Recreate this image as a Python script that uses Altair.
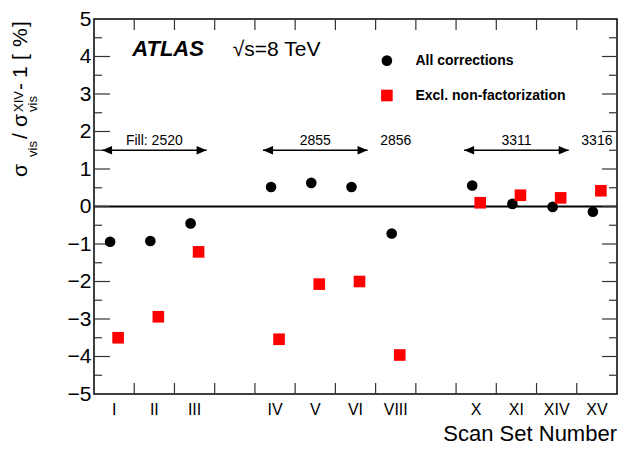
import altair as alt
import pandas as pd

# ---------------- data ----------------
scan_sets = ["I", "II", "III", "IV", "V", "VI", "VIII", "X", "XI", "XIV", "XV"]
slot = [0, 1, 2, 4, 5, 6, 7, 9, 10, 11, 12]          # bin index on the x axis (gaps at 3 and 8)
all_corr = [-0.94, -0.92, -0.45, 0.52, 0.63, 0.52, -0.72, 0.56, 0.07, -0.01, -0.14]
excl_nf = [-3.50, -2.94, -1.21, -3.54, -2.07, -2.00, -3.96, 0.10, 0.30, 0.23, 0.42]

fill_labels = ["Fill: 2520", "2855", "2856", "3311", "3316"]
fill_center = [1.5, 5.5, 7.5, 10.5, 12.5]
arrow_from = [0.2, 4.2, 9.2]
arrow_to = [2.8, 6.8, 11.8]

y_ticks = [-5, -4, -3, -2, -1, 0, 1, 2, 3, 4, 5]
y_minor = [-4.5, -3.5, -2.5, -1.5, -0.5, 0.5, 1.5, 2.5, 3.5, 4.5]
x_edges = list(range(1, 13))

# ---------------- layout ----------------
W, H = 523, 375
PT, PB = 11, 52
FONT = "Liberation Sans"
xs = alt.Scale(domain=[0, 13], nice=False, zero=False)
ys = alt.Scale(domain=[-5, 5], nice=False, zero=False)
yaxis = alt.Axis(values=y_ticks, format="d", tickSize=0, domain=False, grid=False,
                 labelFont=FONT, labelFontSize=21, labelColor="black", labelPadding=3, title=None)

pts = pd.DataFrame({
    "set": scan_sets,
    "pos": [s + 0.5 for s in slot],
    "all": all_corr,
    "excl": excl_nf,
})

X = lambda f: alt.X(f, type="quantitative", scale=xs, axis=None)
Y = lambda f: alt.Y(f, type="quantitative", scale=ys, axis=yaxis)

# zero line
base = alt.Chart(pd.DataFrame({"v": [0]})).mark_rule(strokeWidth=2, color="black").encode(
    y=Y("v"), x=alt.value(0), x2=alt.value(W))

# inner ticks
ymaj = pd.DataFrame({"v": y_ticks[1:-1]})
ymin = pd.DataFrame({"v": y_minor})
xed = pd.DataFrame({"u": x_edges})
tick_col = "#333333"
tl_major = alt.Chart(ymaj).mark_rule(color=tick_col, strokeWidth=1.2).encode(y=Y("v"), x=alt.value(0), x2=alt.value(16))
tl_minor = alt.Chart(ymin).mark_rule(color=tick_col, strokeWidth=1.2).encode(y=Y("v"), x=alt.value(0), x2=alt.value(8))
tr_major = alt.Chart(ymaj).mark_rule(color=tick_col, strokeWidth=1.2).encode(y=Y("v"), x=alt.value(W - 15), x2=alt.value(W))
tr_minor = alt.Chart(ymin).mark_rule(color=tick_col, strokeWidth=1.2).encode(y=Y("v"), x=alt.value(W - 8), x2=alt.value(W))
tt = alt.Chart(xed).mark_rule(color=tick_col, strokeWidth=1.2).encode(x=X("u"), y=alt.value(0), y2=alt.value(11))
tb = alt.Chart(xed).mark_rule(color=tick_col, strokeWidth=1.2).encode(x=X("u"), y=alt.value(H - 11), y2=alt.value(H))

# x category labels
xlab = alt.Chart(pts).mark_text(font=FONT, fontSize=16, baseline="top", color="black").encode(
    x=X("pos"), y=alt.value(H + 8), text="set:N")

# data points
circ = alt.Chart(pts).mark_point(shape="circle", filled=True, size=113, color="black", opacity=1, xOffset=-4).encode(
    x=X("pos"), y=Y("all"))
sq = alt.Chart(pts).mark_point(shape="square", filled=True, size=135, color="#ff0000", opacity=1, xOffset=4).encode(
    x=X("pos"), y=Y("excl"))

# fill arrows
arr = pd.DataFrame({"a": arrow_from, "b": arrow_to, "v": [1.5] * len(arrow_from)})
arrow_line = alt.Chart(arr).mark_rule(color="black", strokeWidth=1.3).encode(x=X("a"), x2="b:Q", y=Y("v"))
head_l = alt.Chart(arr).mark_point(shape="M0,0L2,-0.85L2,0.85Z", filled=True, size=100, color="black", opacity=1, strokeWidth=0).encode(
    x=X("a"), y=Y("v"))
head_r = alt.Chart(arr).mark_point(shape="M0,0L-2,-0.85L-2,0.85Z", filled=True, size=100, color="black", opacity=1, strokeWidth=0).encode(
    x=X("b"), y=Y("v"))
fl = pd.DataFrame({"t": fill_labels, "u": fill_center, "v": [1.75] * len(fill_labels)})
fill_txt = alt.Chart(fl).mark_text(font=FONT, fontSize=14, color="black", baseline="middle").encode(
    x=X("u"), y=Y("v"), text="t:N")

# ATLAS label and energy
ann = pd.DataFrame({"t": ["ATLAS"], "u": [0.95], "v": [4.02]})
atlas = alt.Chart(ann).mark_text(font=FONT, fontSize=22, fontWeight="bold", fontStyle="italic", align="left",
                                 baseline="alphabetic", color="black").encode(x=X("u"), y=Y("v"), text="t:N")
en = pd.DataFrame({"t": ["\u221as=8 TeV"], "u": [3.45], "v": [4.02]})
energy = alt.Chart(en).mark_text(font=FONT, fontSize=21, align="left", baseline="alphabetic", color="black").encode(
    x=X("u"), y=Y("v"), text="t:N")

# legend
leg_names = ["All corrections", "Excl. non-factorization"]
leg = pd.DataFrame({"t": leg_names, "u": [7.28, 7.28], "tu": [7.99, 7.99], "v": [3.89, 2.96]})
leg_c = alt.Chart(leg.iloc[[0]]).mark_point(shape="circle", filled=True, size=113, color="black", opacity=1).encode(
    x=X("u"), y=Y("v"))
leg_s = alt.Chart(leg.iloc[[1]]).mark_point(shape="square", filled=True, size=135, color="#ff0000", opacity=1).encode(
    x=X("u"), y=Y("v"))
leg_t = alt.Chart(leg).mark_text(font=FONT, fontSize=14, fontWeight="bold", align="left", baseline="middle",
                                 color="black").encode(x=X("tu"), y=Y("v"), text="t:N")

# y-axis title built from pieces (sub/superscripts), positions in pixels
one = pd.DataFrame({"k": [0]})
yt_text = ["\u03c3", "vis", "/", "\u03c3", "XIV", "vis", "-", "1", "[", "%", "]"]
yt_px = [-67, -57, -67, -67, -71, -57, -67, -67, -67, -67, -67]
yt_py = [158, 138, 120, 108, 93, 93, 71, 59, 41, 28, 8]
yt_fs = [21, 13, 21, 21, 13, 13, 21, 21, 21, 21, 21]
ytitle = [
    alt.Chart(one).mark_text(text=t, font=FONT, fontSize=fs, angle=270, align="left",
                             baseline="alphabetic", color="black").encode(x=alt.value(px), y=alt.value(py))
    for t, px, py, fs in zip(yt_text, yt_px, yt_py, yt_fs)
]

xt = alt.Chart(one).mark_text(text="Scan Set Number",
    font=FONT, fontSize=22, align="right", baseline="alphabetic", color="black").encode(
    x=alt.value(W), y=alt.value(H + PB - 5))

chart = alt.layer(
    base, tl_major, tl_minor, tr_major, tr_minor, tt, tb,
    arrow_line, head_l, head_r, fill_txt,
    circ, sq, xlab, atlas, energy, leg_c, leg_s, leg_t, *ytitle, xt,
).properties(
    width=W, height=H,
    autosize=alt.AutoSizeParams(type="none"),
    padding={"left": 86, "top": PT, "right": 1, "bottom": PB},
).configure_view(stroke="black", strokeWidth=1.5)

chart.save("out.html", embed_options={"renderer": "svg", "actions": False})
